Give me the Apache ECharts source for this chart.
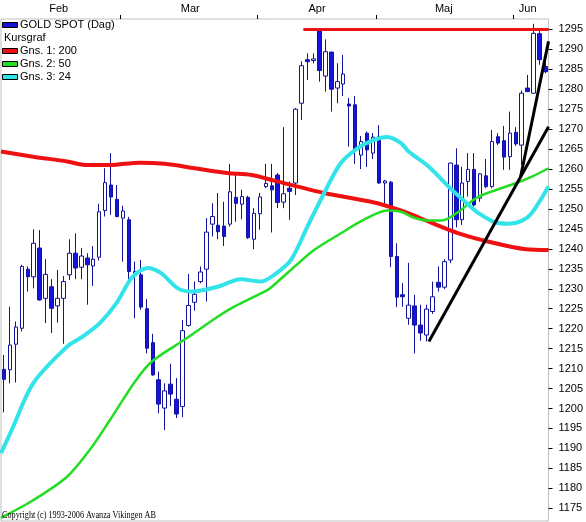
<!DOCTYPE html>
<html>
<head>
<meta charset="utf-8">
<script src="https://cdn.jsdelivr.net/npm/echarts@6/dist/echarts.min.js"></script>
<style>
html,body{margin:0;padding:0;background:#fff;}
#chart{width:586px;height:522px;}
</style>
</head>
<body>
<div id="chart"></div>
<script>
// ---- Data ----
// Daily candles, Feb .. early Jun (index 0 = first trading day shown)
const openP = [
  1209.8,1209.7,1216.1,1220.1,1234.9,1233.0,1240.2,1227.6,1230.5,1225.7,
  1227.6,1233.5,1238.9,1235.4,1237.7,1235.7,1237.9,1249.6,1256.0,1252.4,
  1247.7,1247.3,1233.3,1233.5,1225.0,1216.5,1207.2,1200.1,1206.1,1202.3,
  1200.5,1220.8,1226.6,1231.8,1234.9,1246.2,1245.9,1245.7,1246.2,1252.9,
  1251.2,1252.9,1242.4,
  1248.8,1255.6,1255.8,1258.5,1251.7,1255.2,1256.5,1276.5,1287.4,1287.2,
  1294.9,1283.3,1289.3,1280.3,1281.3,1276.3,1276.1,1263.5,1269.0,1264.0,
  1268.1,1256.5,1256.7,1238.1,1228.5,1222.6,1225.7,1220.9,1218.4,1224.3,
  1231.6,1230.4,1237.2,1261.0,1247.3,1256.9,1259.9,1252.7,1258.3,1255.6,
  1268.1,1267.1,1263.1,
  1269.2,1266.0,1280.3,1279.0,1293.9,1285.7
];
const closeP = [
  1207.3,1215.9,1220.4,1235.6,1233.0,1241.4,1227.2,1233.6,1225.1,1227.6,
  1231.8,1238.9,1235.2,1238.2,1236.0,1237.4,1249.3,1256.6,1253.0,1248.1,
  1249.5,1234.3,1234.3,1225.4,1215.1,1208.4,1201.1,1204.4,1203.6,1198.6,
  1219.5,1225.8,1228.6,1234.2,1244.2,1248.1,1244.3,1243.1,1254.3,1251.4,
  1253.1,1242.8,1248.9,
  1253.0,1256.4,1254.8,1251.6,1253.8,1254.4,1275.0,1285.9,1286.9,1287.6,
  1284.7,1289.4,1280.0,1281.9,1283.8,1275.8,1265.0,1266.9,1264.8,1268.0,
  1256.5,1257.0,1238.1,1227.9,1228.0,1225.9,1220.9,1218.9,1224.9,1228.0,
  1230.4,1236.8,1261.5,1247.3,1256.5,1259.9,1251.0,1258.8,1255.6,1266.9,
  1266.5,1263.0,1269.0,
  1266.3,1279.0,1279.4,1294.0,1287.4,1284.4
];
const lowP = [
  1199.0,1206.3,1206.5,1219.3,1229.3,1230.1,1227.0,1221.4,1218.9,1221.5,
  1216.2,1232.2,1232.4,1232.4,1226.0,1230.7,1237.1,1248.1,1248.5,1247.9,
  1236.8,1232.2,1222.6,1224.7,1213.8,1208.2,1198.8,1194.6,1200.6,1197.6,
  1197.8,1220.5,1224.5,1231.4,1226.8,1243.1,1242.4,1240.7,1245.6,1246.8,
  1247.4,1242.5,1239.9,
  1244.8,1255.2,1244.1,1250.2,1250.2,1247.3,1253.5,1272.3,1282.3,1286.5,
  1281.9,1279.4,1274.4,1276.5,1278.3,1265.6,1261.3,1260.0,1260.5,1262.5,
  1256.3,1251.0,1235.4,1225.4,1225.5,1221.0,1213.8,1217.0,1216.8,1223.7,
  1229.3,1229.9,1236.4,1245.4,1246.0,1253.1,1250.6,1251.8,1255.2,1255.2,
  1266.0,1259.8,1259.8,
  1265.8,1261.0,1279.4,1279.0,1286.1,1284.0
];
const highP = [
  1213.4,1225.5,1221.8,1236.0,1235.6,1244.9,1244.7,1237.4,1232.4,1234.7,
  1233.2,1242.4,1243.9,1240.2,1238.9,1240.7,1251.3,1260.2,1264.0,1256.0,
  1250.8,1248.0,1236.8,1237.2,1227.4,1218.7,1209.2,1206.3,1211.2,1207.6,
  1222.2,1233.7,1231.8,1235.6,1247.7,1251.4,1254.0,1251.8,1261.3,1259.0,
  1254.8,1253.3,1250.2,
  1254.0,1261.3,1261.3,1259.0,1270.5,1256.9,1275.3,1287.0,1289.0,1289.0,
  1295.3,1292.5,1289.4,1286.5,1288.6,1277.8,1278.3,1268.3,1269.4,1269.0,
  1271.0,1257.3,1257.0,1241.4,1231.4,1236.5,1228.5,1226.0,1226.0,1231.8,
  1235.6,1237.4,1261.6,1265.2,1260.6,1264.0,1264.0,1259.0,1262.5,1269.8,
  1269.0,1270.8,1274.4,
  1270.5,1279.7,1283.6,1296.4,1294.9,1287.0
];

// Moving averages, read at sample points: [day index, price]
const ma200 = [
  [-0.5,1264.4],[4.9,1263.1],[10.6,1261.9],[13.9,1261.0],[17.8,1261.0],
  [22.8,1261.6],[27.0,1261.3],[32.0,1260.2],[37.5,1259.0],[41.6,1258.5],
  [45.4,1257.1],[53.8,1254.0],[62.2,1251.6],[65.5,1250.2],[68.0,1248.9],
  [71.4,1246.8],[76.4,1243.9],[82.0,1241.6],[87.7,1239.9],[91.5,1239.7]
];
const ma50 = [
  [-0.5,1172.6],[4.9,1177.0],[10.6,1182.9],[14.4,1189.6],[17.8,1197.1],
  [22.0,1206.7],[24.8,1211.7],[30.3,1217.2],[35.9,1223.0],[38.7,1225.5],
  [44.3,1229.7],[45.4,1231.0],[48.8,1235.5],[52.1,1239.7],[56.6,1243.9],
  [60.5,1247.3],[64.4,1249.6],[66.7,1249.3],[68.9,1247.8],[71.4,1247.1],
  [73.6,1247.1],[76.4,1249.3],[79.4,1252.8],[82.0,1254.4],[86.1,1256.5],
  [88.7,1258.1],[91.5,1260.2]
];
const ma24 = [
  [-0.5,1188.8],[1.3,1194.6],[4.9,1206.3],[10.6,1215.5],[13.2,1218.0],
  [16.1,1221.4],[18.9,1226.4],[21.6,1233.0],[24.2,1235.2],[26.4,1233.9],
  [29.2,1230.1],[31.5,1229.3],[35.9,1230.5],[39.8,1232.4],[43.2,1231.8],
  [45.4,1233.5],[48.2,1237.2],[51.0,1245.6],[53.8,1254.0],[56.6,1261.5],
  [59.4,1265.2],[62.2,1267.3],[64.4,1268.0],[66.7,1266.5],[68.0,1264.4],
  [71.4,1260.6],[74.7,1255.6],[78.1,1251.0],[79.8,1248.9],[82.6,1246.6],
  [84.8,1246.3],[87.0,1247.0],[88.7,1249.0],[91.5,1255.6]
];
// Drawn trend lines and resistance line: [day index, price]
const trendShallow = [[71.4,1216.8],[91.5,1270.6]];
const trendSteep = [[86.8,1258.0],[91.5,1292.0]];
const resistance = [[50.3,1295.0],[91.5,1295.0]];

// Axis texts
const monthNames = ['Feb','Mar','Apr','Maj','Jun'];
const monthLabelPos = [9.2, 31.3, 52.6, 73.9, 88.0];
const monthStartPos = [19.5, 42.5, 62.5, 85.5];
const yTicks = [1175,1180,1185,1190,1195,1200,1205,1210,1215,1220,1225,1230,
  1235,1240,1245,1250,1255,1260,1265,1270,1275,1280,1285,1290,1295];

const legendItems = [
  {label:'GOLD SPOT (Dag)', color:'#1414d8'},
  {label:'Kursgraf', color:null},
  {label:'Gns. 1: 200', color:'#ee1111'},
  {label:'Gns. 2: 50', color:'#22dd22'},
  {label:'Gns. 3: 24', color:'#33e3ea'}
];

// ---- Build chart ----
const cats = openP.map((_, i) => String(i));
const candles = openP.map((o, i) => [o, closeP[i], lowP[i], highP[i]]);

const graphics = [];
legendItems.forEach((it, k) => {
  const cy = 25 + k * 13;
  if (it.color) {
    graphics.push({type:'rect', shape:{x:2.5, y:cy-2.5, width:15, height:5},
      style:{fill:it.color, stroke:'#000', lineWidth:1}, z:100});
    graphics.push({type:'text', x:20, y:cy, style:{text:it.label, fill:'#000',
      font:'11px "Liberation Sans", Arial, sans-serif', verticalAlign:'middle'}, z:100});
  } else {
    graphics.push({type:'text', x:4, y:cy, style:{text:it.label, fill:'#000',
      font:'11px "Liberation Sans", Arial, sans-serif', verticalAlign:'middle'}, z:100});
  }
});
graphics.push({type:'text', x:2, y:515, scaleX:0.82, style:{
  text:'Copyright (c) 1993-2006 Avanza Vikingen AB', fill:'#000',
  font:'10px "Liberation Serif", "Times New Roman", serif', verticalAlign:'middle'}, z:100});

const chart = echarts.init(document.getElementById('chart'), null, {renderer:'canvas'});
chart.setOption({
  animation:false,
  backgroundColor:'#ffffff',
  grid:{left:1, right:36, top:19, bottom:1, show:true, borderColor:'#c0c0c0', borderWidth:1,
        backgroundColor:'#ffffff'},
  xAxis:[
    {type:'category', data:cats, show:false, boundaryGap:true,
     axisLine:{onZero:false}},
    {type:'value', position:'top', min:-0.5, max:91.5,
     splitLine:{show:false}, axisLine:{show:false, onZero:false},
     axisTick:{show:true, length:4, inside:false, customValues:monthStartPos,
               lineStyle:{color:'#000', width:1}},
     axisLabel:{customValues:monthLabelPos, margin:5, fontSize:11, color:'#000',
       fontFamily:'"Liberation Sans", Arial, sans-serif',
       formatter:(v) => {
         let best = 0, bd = 1e9;
         monthLabelPos.forEach((p, i) => { const d = Math.abs(p - v); if (d < bd) { bd = d; best = i; } });
         return monthNames[best];
       }}}
  ],
  yAxis:{type:'value', position:'right', min:1171.8, max:1297.6, scale:true,
    splitLine:{show:false}, axisLine:{show:false, onZero:false},
    axisTick:{show:true, length:4, customValues:yTicks, lineStyle:{color:'#000', width:1}},
    axisLabel:{customValues:yTicks, margin:10, fontSize:11, color:'#000',
      fontFamily:'"Liberation Sans", Arial, sans-serif',
      formatter:(v) => String(Math.round(v))}},
  series:[
    {type:'candlestick', name:'GOLD SPOT (Dag)', xAxisIndex:0, yAxisIndex:0, data:candles,
     barWidth:4,
     itemStyle:{color:'#ffffff', color0:'#1414e0', borderColor:'#12129a', borderColor0:'#12129a', borderWidth:1}},
    {type:'line', name:'Gns. 1: 200', xAxisIndex:1, data:ma200, showSymbol:false, smooth:0.3,
     lineStyle:{color:'#ee1111', width:4}},
    {type:'line', name:'Gns. 2: 50', xAxisIndex:1, data:ma50, showSymbol:false, smooth:0.3,
     lineStyle:{color:'#22dd22', width:2.5}},
    {type:'line', name:'Gns. 3: 24', xAxisIndex:1, data:ma24, showSymbol:false, smooth:0.3,
     lineStyle:{color:'#33e3ea', width:4}},
    {type:'line', xAxisIndex:1, data:trendShallow, showSymbol:false,
     lineStyle:{color:'#000', width:3}},
    {type:'line', xAxisIndex:1, data:trendSteep, showSymbol:false,
     lineStyle:{color:'#000', width:3}},
    {type:'line', xAxisIndex:1, data:resistance, showSymbol:false,
     lineStyle:{color:'#ee1111', width:3}}
  ],
  graphic:graphics
});
</script>
</body>
</html>
